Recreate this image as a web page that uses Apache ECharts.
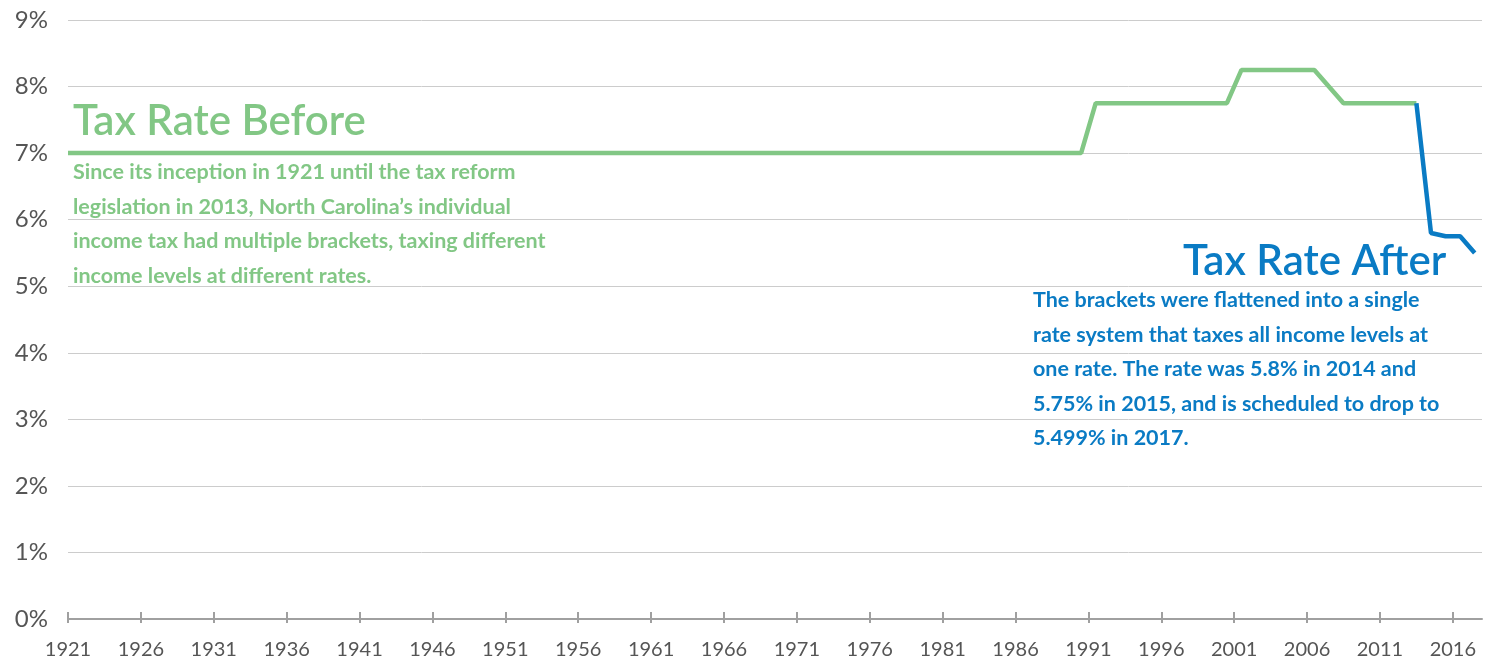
<!DOCTYPE html>
<html>
<head>
<meta charset="utf-8">
<title>NC Tax Rate</title>
<script src="https://cdn.jsdelivr.net/npm/echarts@6/dist/echarts.min.js"></script>
<style>
  html, body { margin: 0; padding: 0; background: #fff; }
  #chart { width: 1489px; height: 660px; }
</style>
</head>
<body>
<div id="chart"></div>
<script>
// data
var beforeYears = [1921, 1990.5, 1991.5, 2000.5, 2001.5, 2006.5, 2008.5, 2013.5];
var beforeRates = [7, 7, 7.75, 7.75, 8.25, 8.25, 7.75, 7.75];
var afterYears = [2013.5, 2014.5, 2015.5, 2016.5, 2017.5];
var afterRates = [7.75, 5.8, 5.75, 5.75, 5.499];
var tickYears = [1921, 1926, 1931, 1936, 1941, 1946, 1951, 1956, 1961, 1966, 1971,
  1976, 1981, 1986, 1991, 1996, 2001, 2006, 2011, 2016];

var green = '#82c785';
var blue = '#0a7bc4';

function pairs(xs, ys) {
  var out = [];
  for (var i = 0; i < xs.length; i++) out.push([xs[i], ys[i]]);
  return out;
}

var beforeText = 'Since its inception in 1921 until the tax reform\n' +
  'legislation in 2013, North Carolina\u2019s individual\n' +
  'income tax had multiple brackets, taxing different\n' +
  'income levels at different rates.';
var afterText = 'The brackets were flattened into a single\n' +
  'rate system that taxes all income levels at\n' +
  'one rate. The rate was 5.8% in 2014 and\n' +
  '5.75% in 2015, and is scheduled to drop to\n' +
  '5.499% in 2017.';

var chart = echarts.init(document.getElementById('chart'));
var option = {
  animation: false,
  textStyle: { fontFamily: 'Lato' },
  grid: { left: 68, right: 7, top: 20, bottom: 40 },
  xAxis: [
    {
      type: 'value',
      min: 1921,
      max: 2018,
      axisLine: { show: true, lineStyle: { color: '#a0a0a0', width: 2 } },
      axisTick: { show: true, length: 4, customValues: tickYears,
        lineStyle: { color: '#a0a0a0', width: 2 } },
      axisLabel: { customValues: tickYears, margin: 21, color: '#555',
        fontSize: 20, fontFamily: 'Lato',
        formatter: function (v) { return String(v); } },
      splitLine: { show: false }
    },
    {
      // upper half of the crossing ticks
      type: 'value',
      min: 1921,
      max: 2018,
      position: 'bottom',
      axisLine: { show: false },
      axisTick: { show: true, inside: true, length: 7, customValues: tickYears,
        lineStyle: { color: '#a0a0a0', width: 2 } },
      axisLabel: { show: false },
      splitLine: { show: false }
    }
  ],
  yAxis: {
    type: 'value',
    min: 0,
    max: 9,
    interval: 1,
    axisLine: { show: false },
    axisTick: { show: false },
    axisLabel: { formatter: '{value}%', margin: 20, color: '#555',
      fontSize: 24, fontFamily: 'Lato' },
    splitLine: { lineStyle: { color: '#cccccc', width: 1 } }
  },
  series: [
    {
      name: 'Tax Rate Before',
      type: 'line',
      data: pairs(beforeYears, beforeRates),
      showSymbol: false,
      lineStyle: { color: green, width: 4.5 },
      z: 3
    },
    {
      name: 'Tax Rate After',
      type: 'line',
      data: pairs(afterYears, afterRates),
      showSymbol: false,
      lineStyle: { color: blue, width: 4.5 },
      z: 4
    }
  ],
  graphic: [
    {
      type: 'text', left: 73, top: 100,
      style: { text: 'Tax Rate Before', fill: green,
        font: '600 42px Lato' }
    },
    {
      type: 'text', left: 73, top: 155,
      style: { text: beforeText, fill: green, lineHeight: 34.5,
        font: 'bold 21.5px Lato' }
    },
    {
      type: 'text', left: 1183, top: 240,
      style: { text: 'Tax Rate After', fill: blue,
        font: '600 42px Lato' }
    },
    {
      type: 'text', left: 1033, top: 283,
      style: { text: afterText, fill: blue, lineHeight: 34.5,
        font: 'bold 21.5px Lato' }
    }
  ]
};
chart.setOption(option);
</script>
</body>
</html>
